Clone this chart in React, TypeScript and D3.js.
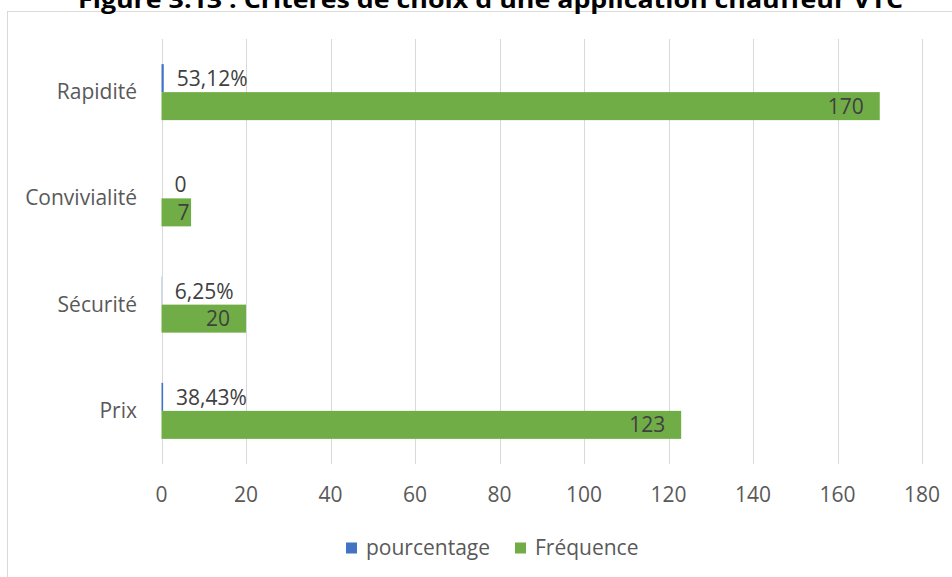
import React from "react";
import * as d3 from "d3";

const categories = ["Prix", "Sécurité", "Convivialité", "Rapidité"];
const pourcentage = [0.3843, 0.0625, 0, 0.5312];
const pourcentageLabels = ["38,43%", "6,25%", "0", "53,12%"];
const frequence = [123, 20, 7, 170];
const xTicks = [0, 20, 40, 60, 80, 100, 120, 140, 160, 180];
const seriesNames = ["pourcentage", "Fréquence"];
const title = "Figure 3.13 : Critères de choix d'une application chauffeur VTC";

const W = 952;
const H = 577;
const BLUE = "#4472C4";
const GREEN = "#70AD47";
const GRID = "#D9D9D9";
const AXIS_TEXT = "#595959";
const LABEL_TEXT = "#404040";
const FONT = "'Open Sans', 'Noto Sans', sans-serif";

export default function App() {
  const x = d3.scaleLinear().domain([0, 180]).range([161.5, 922]);
  const order = categories.slice().reverse(); // top to bottom
  const y = d3.scaleBand<string>().domain(order).range([39, 464]);
  const barH = 28;
  const cy = (c: string) => (y(c) as number) + y.bandwidth() / 2;

  const rows = categories.map((c, i) => ({
    c,
    p: pourcentage[i],
    pl: pourcentageLabels[i],
    f: frequence[i],
  }));

  return (
    <svg
      width={W}
      height={H}
      style={{ position: "absolute", left: 0, top: 0, background: "#fff" }}
    >
      <rect x={0} y={0} width={W} height={H} fill="#fff" />
      <rect x={7.5} y={11.5} width={1000} height={700} fill="#fff" stroke={GRID} strokeWidth={1} />
      <text
        x={78}
        y={8}
        fontFamily={FONT}
        fontWeight={700}
        fontSize={24}
        fill="#000"
        textLength={825}
        lengthAdjust="spacingAndGlyphs"
      >
        {title}
      </text>

      {/* gridlines */}
      {xTicks.map((t) => (
        <line
          key={t}
          x1={Math.round(x(t)) + 0.5}
          x2={Math.round(x(t)) + 0.5}
          y1={39}
          y2={464}
          stroke={GRID}
          strokeWidth={1}
        />
      ))}

      {/* tick labels */}
      {xTicks.map((t) => (
        <text
          key={"t" + t}
          x={x(t)}
          y={502}
          textAnchor="middle"
          fontFamily={FONT}
          fontSize={21}
          fill={AXIS_TEXT}
        >
          {t}
        </text>
      ))}

      {/* category labels */}
      {order.map((c) => (
        <text
          key={"c" + c}
          x={137}
          y={cy(c) + 7}
          textAnchor="end"
          fontFamily={FONT}
          fontSize={21}
          fill={AXIS_TEXT}
        >
          {c}
        </text>
      ))}

      {/* bars */}
      {rows.map((r) => {
        const mid = cy(r.c);
        const x0 = x(0);
        const xp = x(r.p);
        const xf = x(r.f);
        const fRight = Math.max(xf - 16, x0 + 28);
        return (
          <g key={"b" + r.c}>
            <rect x={x0} y={mid - barH} width={xp - x0} height={barH} fill={BLUE} />
            <rect x={x0} y={mid} width={xf - x0} height={barH} fill={GREEN} />
            <text
              x={xp + 13}
              y={mid - barH / 2 + 8}
              fontFamily={FONT}
              fontSize={21}
              fill={LABEL_TEXT}
            >
              {r.pl}
            </text>
            <text
              x={fRight}
              y={mid + barH / 2 + 7.5}
              textAnchor="end"
              fontFamily={FONT}
              fontSize={21}
              fill={LABEL_TEXT}
            >
              {r.f}
            </text>
          </g>
        );
      })}

      {/* legend */}
      {seriesNames.map((s, i) => {
        const lx = i === 0 ? 346 : 515;
        return (
          <g key={"l" + s}>
            <rect x={lx} y={542.5} width={11} height={11} fill={i === 0 ? BLUE : GREEN} />
            <text x={lx + 20} y={555} fontFamily={FONT} fontSize={21} fill={AXIS_TEXT}>
              {s}
            </text>
          </g>
        );
      })}
    </svg>
  );
}
